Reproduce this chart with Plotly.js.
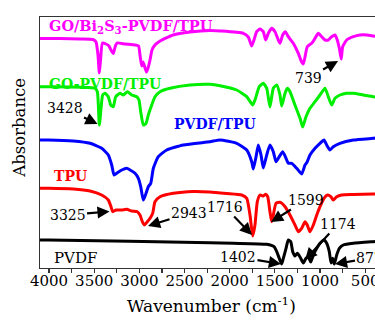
<!DOCTYPE html>
<html><head><meta charset="utf-8">
<script src="https://cdn.plot.ly/plotly-3.0.1.min.js"></script>
<style>html,body{margin:0;padding:0;overflow:hidden;background:#fff;}#chart{width:380px;height:320px;}</style>
</head><body><div id="chart"></div><script>
// Wavenumbers (cm-1) and stacked absorbance values (arbitrary units, offset per sample)
const magentaWn = [4100,3878,3657,3513,3480,3458,3443,3430,3408,3369,3336,3314,3288,3269,3247,3159,3048,3009,2993,2974,2959,2937,2921,2904,2882,2860,2827,2771,2627,2439,2218,2107,1849,1794,1756,1731,1701,1664,1628,1601,1572,1535,1498,1462,1443,1413,1384,1351,1296,1240,1203,1185,1166,1141,1092,1055,1019,981,945,908,871,834,809,786,765,749,705,631,557,483,410,380];
const magentaAbs = [22.95,22.95,22.9,22.85,22.6,21.3,19.5,20.8,22.5,22.4,22.2,21.8,21.45,22.1,22.5,22.4,22.3,22.2,21.3,20.2,20.6,20.0,19.6,20.0,20.8,21.8,22.3,22.7,23.3,23.6,23.75,23.7,23.47,23.1,22.2,22.8,23.63,23.9,23.63,22.8,23.47,23.97,23.63,22.8,22.47,23.3,23.63,23.13,22.47,21.47,20.6,20.4,21.1,22.13,22.47,22.97,23.47,23.13,22.8,22.8,23.13,23.3,22.8,21.97,20.9,22.13,22.8,23.13,23.3,23.3,23.2,23.15];

const greenWn = [4100,4008,3491,3465,3443,3424,3406,3380,3344,3317,3288,3262,3214,3177,3133,3085,3029,3004,2985,2956,2926,2901,2863,2827,2771,2661,2439,2218,2107,1922,1811,1745,1720,1672,1628,1590,1554,1517,1479,1443,1424,1387,1362,1332,1277,1221,1192,1155,1111,1055,1000,945,908,871,834,779,705,631,521,410,380];
const greenAbs = [18.13,18.13,17.97,17.63,14.3,15.97,17.3,17.47,17.13,16.3,16.13,17.13,17.47,17.3,17.63,17.3,17.13,16.8,15.63,14.3,14.47,15.3,16.3,17.13,17.63,17.97,18.3,18.37,18.23,17.8,17.13,16.3,16.8,18.13,18.47,17.97,16.1,17.97,18.3,17.3,16.2,17.47,17.97,17.63,16.3,14.97,14.1,15.13,15.97,16.63,17.3,17.97,17.13,16.3,16.97,17.3,17.47,17.47,17.3,17.13,17.1];

const blueWn = [4100,4008,3731,3546,3417,3344,3306,3280,3251,3195,3140,3103,3048,3011,2985,2956,2926,2901,2874,2845,2790,2697,2513,2218,2107,1922,1811,1756,1738,1708,1683,1653,1628,1590,1554,1517,1487,1451,1413,1376,1351,1313,1258,1203,1166,1141,1111,1055,1000,956,926,889,853,779,631,410,380];
const blueAbs = [12.8,12.8,12.7,12.47,11.97,11.3,10.3,9.3,9.47,9.8,9.97,9.8,9.47,8.97,8.13,6.8,7.47,8.13,8.47,9.97,11.13,11.8,12.3,12.63,12.8,12.47,11.8,10.63,9.9,11.13,12.3,11.3,10.0,11.3,12.3,11.63,10.63,11.13,11.63,10.97,10.47,10.47,9.97,9.4,10.3,10.63,11.3,11.97,12.47,12.8,12.3,11.8,12.13,12.47,12.8,12.97,13.0];

const redWn = [4100,4008,3731,3546,3417,3344,3314,3295,3258,3195,3140,3085,3023,2993,2967,2945,2912,2882,2852,2827,2771,2624,2403,2218,2033,1867,1811,1775,1745,1720,1694,1664,1628,1601,1579,1554,1535,1517,1487,1443,1387,1332,1277,1240,1203,1166,1141,1111,1074,1036,1000,956,917,880,853,815,760,631,410,380];
const redAbs = [7.97,7.97,7.9,7.7,7.3,6.8,6.13,5.63,5.8,5.8,5.87,5.7,5.63,5.3,4.63,4.3,4.63,4.97,5.47,6.63,7.13,7.47,7.65,7.6,7.45,7.3,6.97,5.3,3.2,4.3,6.63,7.3,7.2,7.37,7.13,5.63,4.63,5.3,6.47,6.57,6.13,5.3,4.3,3.63,3.97,4.63,4.3,3.63,4.3,5.3,6.13,6.97,7.3,7.13,6.8,7.13,7.3,7.35,7.4,7.4];

const blackWn = [4100,4008,2218,1960,1590,1509,1479,1451,1424,1406,1376,1351,1324,1302,1277,1251,1221,1185,1155,1130,1103,1074,1036,1000,956,926,897,878,860,842,815,786,742,631,410,380];
const blackAbs = [2.8,2.8,2.53,2.47,2.37,2.13,1.63,0.97,0.4,0.97,1.97,2.8,2.63,1.63,1.2,1.47,1.1,0.5,0.97,1.13,0.6,1.3,1.97,2.47,2.8,2.47,1.63,0.5,0.97,0.4,1.3,1.97,2.3,2.47,2.63,2.65];

const seriesNames = ['GO/Bi<sub>2</sub>S<sub>3</sub>-PVDF/TPU','GO-PVDF/TPU','PVDF/TPU','TPU','PVDF'];
const seriesColors = ['#ff00ff','#00ee00','#0000ff','#ff0000','#000000'];

// Peak annotations: label, wavenumber, absorbance of arrow tip
const peakLabels = ['3428','739','3325','2943','1716','1599','1174','1402','877'];
const peakWn     = [3463, 800, 3330, 2904, 1753, 1542, 1166, 1432, 834];
const peakAbs    = [14.4, 20.7, 5.65, 4.2, 3.3, 4.6, 0.8, 0.4, 0.4];
const peakAx     = [-33, -30, -42, 41, -27, 35, 33, -43, 35];
const peakAy     = [-16, 17, 3.5, -13, -28, -22, -36, -7, -6];

const xs = [magentaWn, greenWn, blueWn, redWn, blackWn];
const ys = [magentaAbs, greenAbs, blueAbs, redAbs, blackAbs];

const FONT = 'DejaVu Serif';
const traces = xs.map((x,i)=>({
  x: x, y: ys[i], type:'scatter', mode:'lines', name: seriesNames[i],
  line:{color: seriesColors[i], width:3, shape:'spline', smoothing:0.5},
  hoverinfo:'skip'
}));

const annotations = [];
peakLabels.forEach((t,i)=>{
  annotations.push({x: peakWn[i], y: peakAbs[i], xref:'x', yref:'y', text:t,
    showarrow:true, arrowhead:2, arrowsize:1.1, arrowwidth:2.2, arrowcolor:'#000',
    ax: peakAx[i], ay: peakAy[i], font:{family:FONT, size:14, color:'#000'}});
});
// series labels
const labelPos = [[4022,24.15,true,14.5],[4022,18.45,true,14],[2638,14.45,true,14],[3967,9.2,true,14],[3967,1.05,false,15]];
labelPos.forEach((p,i)=>{
  annotations.push({x:p[0], y:p[1], xref:'x', yref:'y', xanchor:'left', yanchor:'middle',
    text: seriesNames[i], showarrow:false,
    font:{family:FONT, size:p[3], color: seriesColors[i], weight: p[2] ? 'bold' : 'normal'}});
});
// axis titles
annotations.push({xref:'paper', yref:'paper', x:-0.06, y:0.558, text:'Absorbance', textangle:-90,
  showarrow:false, xanchor:'center', yanchor:'middle', font:{family:FONT, size:16.5, color:'#000'}});
annotations.push({xref:'paper', yref:'paper', x:0.51, y:-0.148, text:'Wavenumber (cm<sup>-1</sup>)',
  showarrow:false, xanchor:'center', yanchor:'middle', font:{family:FONT, size:17, color:'#000'}});

const layout = {
  width:380, height:320,
  margin:{l:40, r:4, t:17, b:52},
  paper_bgcolor:'#fff', plot_bgcolor:'#fff',
  showlegend:false,
  font:{family:FONT, color:'#000'},
  xaxis:{range:[4100,380], showgrid:false, zeroline:false, showline:true, mirror:true,
    linecolor:'#333', linewidth:1.3, ticks:'outside', ticklen:4, tickwidth:1.2, tickcolor:'#333',
    tick0:0, dtick:500, ticklabelstandoff:-5, tickfont:{family:FONT, size:15, color:'#000'},
    minor:{dtick:250, ticks:'outside', ticklen:4, tickcolor:'#333', tickwidth:1.2}},
  yaxis:{range:[0,25.1], showgrid:false, zeroline:false, showline:true, mirror:true,
    linecolor:'#333', linewidth:1.3, ticks:'', showticklabels:false},
  annotations: annotations
};
Plotly.newPlot('chart', traces, layout, {staticPlot:true, displayModeBar:false});
</script></body></html>
